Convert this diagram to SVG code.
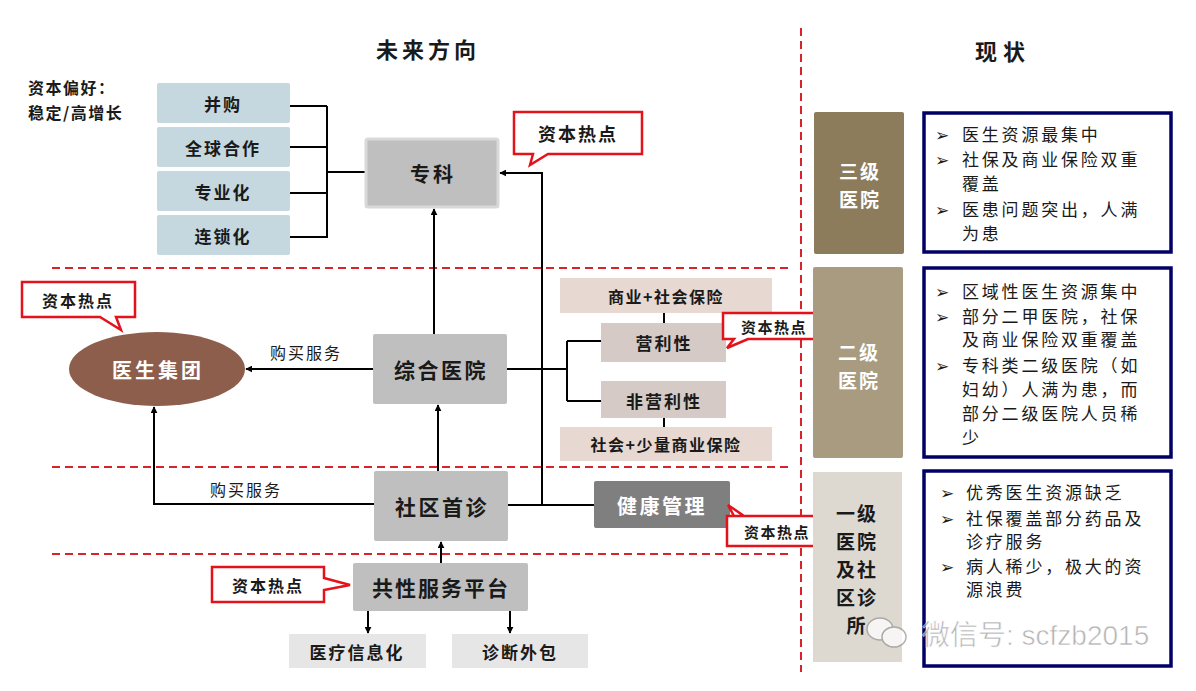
<svg xmlns="http://www.w3.org/2000/svg" width="1196" height="691" viewBox="0 0 1196 691">
<defs>
<marker id="ah" viewBox="0 0 10 10" refX="9" refY="5" markerWidth="7" markerHeight="7" orient="auto-start-reverse" markerUnits="userSpaceOnUse">
<path d="M0,0 L10,5 L0,10 z" fill="#000"/>
</marker>
<style>
text{font-family:"Noto Sans CJK SC","Noto Sans",sans-serif;fill:#1a1a1a}
.t{text-anchor:middle;dominant-baseline:central}
.b{font-weight:bold}
.blue{fill:#c5d7df}
.gray{fill:#bfbfbf}
.pink{fill:#e7d8d2}
.pink2{fill:#d6cac6}
.lg{fill:#e6e6e6}
.call{fill:#fff;stroke:#e3121b;stroke-width:2.5}
.ln{stroke:#000;stroke-width:2;fill:none}
.arr{stroke:#000;stroke-width:2;fill:none;marker-end:url(#ah)}
.dash{stroke:#d9232b;stroke-width:2;stroke-dasharray:8,5;fill:none}
.nav{fill:#fff;stroke:#000066;stroke-width:3.5}
.bul{font-size:17px;letter-spacing:2.8px}
.bk{font-family:"DejaVu Sans",sans-serif;font-size:17px}
.lv{font-size:19px;letter-spacing:2px}
</style>
</defs>
<rect width="1196" height="691" fill="#fff"/>

<!-- separators -->
<g id="separators">
<line class="dash" x1="801" y1="28" x2="801" y2="672"/>
<line class="dash" x1="52" y1="268" x2="790" y2="268"/>
<line class="dash" x1="52" y1="467" x2="790" y2="467"/>
<line class="dash" x1="52" y1="554" x2="790" y2="554"/>
</g>

<!-- titles -->
<g id="titles">
<text class="t b" x="428" y="48" font-size="22" letter-spacing="4">未来方向</text>
<text class="t b" x="1003" y="50" font-size="22" letter-spacing="6">现状</text>
<text x="28" y="94" font-size="16" class="b" letter-spacing="1.5">资本偏好：</text>
<text x="28" y="119" font-size="16" class="b" letter-spacing="1.5">稳定/高增长</text>
</g>

<!-- connectors -->
<g id="connectors">
<path class="ln" d="M290,106 H327 M290,147 H327 M290,193 H327 M290,237 H327 M327,106 V238 M327,172 H365"/>
<line class="arr" x1="434" y1="334" x2="434" y2="209"/>
<path class="arr" d="M542,505 V173 H500"/>
<line class="arr" x1="373" y1="369" x2="246" y2="369"/>
<text class="t" x="306" y="352" font-size="16" letter-spacing="2">购买服务</text>
<path class="ln" d="M507,369 H567 M567,341 V401 M567,341 H601 M567,401 H601 M664,313 V323 M664,418 V427"/>
<line class="arr" x1="438" y1="499" x2="438" y2="405"/>
<path class="arr" d="M374,504 H154 V407"/>
<text class="t" x="246" y="489" font-size="16" letter-spacing="2">购买服务</text>
<line class="ln" x1="508" y1="505" x2="594" y2="505"/>
<line class="arr" x1="441" y1="563" x2="441" y2="542"/>
<line class="arr" x1="368" y1="611" x2="368" y2="633"/>
<line class="arr" x1="510" y1="611" x2="510" y2="633"/>
</g>

<!-- left boxes -->
<g id="n-bg"><rect class="blue" x="157" y="83" width="133" height="40" rx="2"/><text class="t b" x="223" y="103" font-size="17" letter-spacing="2">并购</text></g>
<g id="n-qq"><rect class="blue" x="157" y="127" width="133" height="40" rx="2"/><text class="t b" x="223" y="147" font-size="17" letter-spacing="2">全球合作</text></g>
<g id="n-zyh"><rect class="blue" x="157" y="171" width="133" height="40" rx="2"/><text class="t b" x="223" y="191" font-size="17" letter-spacing="2">专业化</text></g>
<g id="n-lsh"><rect class="blue" x="157" y="215" width="133" height="40" rx="2"/><text class="t b" x="223" y="235" font-size="17" letter-spacing="2">连锁化</text></g>

<g id="n-zk"><rect x="366" y="139" width="132" height="68" fill="#bfbfbf" stroke="#d9d9d9" stroke-width="3" rx="2"/><text class="t b" x="433" y="173" font-size="20" letter-spacing="3">专科</text></g>
<g id="c1"><path class="call" d="M514,112 H642 V154 H548 L530,165 L533,154 H514 Z"/><text class="t b" x="578" y="133" font-size="18" letter-spacing="2">资本热点</text></g>

<g id="c2"><path class="call" d="M22,282 H135 V317 H116 L121,330 L100,317 H22 Z"/><text class="t b" x="78" y="300" font-size="16" letter-spacing="2">资本热点</text></g>
<g id="n-ysjt"><ellipse cx="157" cy="369" rx="88" ry="37" fill="#8e5e4c"/><text class="t b" x="158" y="369" font-size="20" letter-spacing="3" style="fill:#fff">医生集团</text></g>
<g id="n-zhyy"><rect class="gray" x="373" y="334" width="134" height="70" rx="2"/><text class="t b" x="441" y="369" font-size="21" letter-spacing="2.5">综合医院</text></g>

<g id="n-sy"><rect class="pink" x="560" y="278" width="212" height="35"/><text class="t b" x="666" y="296" font-size="16" letter-spacing="1.5">商业+社会保险</text></g>
<g id="n-yl"><rect class="pink2" x="601" y="323" width="125" height="39"/><text class="t b" x="664" y="342" font-size="17" letter-spacing="2">营利性</text></g>
<g id="n-fyl"><rect class="pink2" x="601" y="381" width="125" height="37"/><text class="t b" x="664" y="400" font-size="17" letter-spacing="2">非营利性</text></g>
<g id="n-sh"><rect class="pink" x="560" y="427" width="212" height="34"/><text class="t b" x="666" y="444" font-size="16" letter-spacing="1.5">社会+少量商业保险</text></g>
<g id="c3"><path class="call" d="M723,313 H822 V339 H748 L727,348 L734,339 H723 Z"/><text class="t b" x="774" y="326" font-size="15" letter-spacing="1.5">资本热点</text></g>

<g id="n-sqsz"><rect class="gray" x="374" y="471" width="134" height="70" rx="2"/><text class="t b" x="442" y="506" font-size="21" letter-spacing="2.5">社区首诊</text></g>
<g id="n-jkgl"><rect x="594" y="481" width="136" height="47" fill="#7f7f7f" rx="2"/><text class="t b" x="662" y="505" font-size="20" letter-spacing="2.5" style="fill:#fff">健康管理</text></g>
<g id="c4"><path class="call" d="M727,516 H828 V546 H727 V516 H744 L728,505 L734,516"/><text class="t b" x="777" y="531" font-size="15" letter-spacing="1.5">资本热点</text></g>

<g id="n-gx"><rect class="gray" x="353" y="563" width="175" height="48" rx="2"/><text class="t b" x="441" y="587" font-size="21" letter-spacing="2">共性服务平台</text></g>
<g id="c5"><path class="call" d="M212,567 H324 V578 L350,585 L324,590 V602 H212 Z"/><text class="t b" x="268" y="585" font-size="16" letter-spacing="2">资本热点</text></g>
<g id="n-ylxx"><rect class="lg" x="289" y="634" width="137" height="34"/><text class="t b" x="357" y="651" font-size="17" letter-spacing="2">医疗信息化</text></g>
<g id="n-zdwb"><rect class="lg" x="452" y="634" width="136" height="34"/><text class="t b" x="520" y="651" font-size="17" letter-spacing="2">诊断外包</text></g>

<!-- right side -->
<g id="n-sj"><rect x="814" y="112" width="90" height="142" fill="#8c7c5c" rx="2"/><text class="t b lv" x="860" y="170" style="fill:#fff">三级</text><text class="t b lv" x="860" y="198" style="fill:#fff">医院</text></g>
<g id="d-sj"><rect class="nav" x="924" y="113" width="247" height="139"/>
<text class="bk" x="935" y="141">➢</text><text class="bul" x="962" y="141">医生资源最集中</text>
<text class="bk" x="935" y="166">➢</text><text class="bul" x="962" y="166">社保及商业保险双重</text>
<text class="bul" x="962" y="190">覆盖</text>
<text class="bk" x="935" y="216">➢</text><text class="bul" x="962" y="216">医患问题突出，人满</text>
<text class="bul" x="962" y="240">为患</text>
</g>

<g id="n-ej"><rect x="813" y="267" width="90" height="191" fill="#a89b80" rx="2"/><text class="t b lv" x="859" y="351" style="fill:#fff">二级</text><text class="t b lv" x="859" y="379" style="fill:#fff">医院</text></g>
<g id="d-ej"><rect class="nav" x="924" y="268" width="247" height="189"/>
<text class="bk" x="935" y="298">➢</text><text class="bul" x="962" y="298">区域性医生资源集中</text>
<text class="bk" x="935" y="323">➢</text><text class="bul" x="962" y="323">部分二甲医院，社保</text>
<text class="bul" x="962" y="346">及商业保险双重覆盖</text>
<text class="bk" x="935" y="372">➢</text><text class="bul" x="962" y="372">专科类二级医院（如</text>
<text class="bul" x="962" y="396">妇幼）人满为患，而</text>
<text class="bul" x="962" y="420">部分二级医院人员稀</text>
<text class="bul" x="962" y="444">少</text>
</g>

<g id="n-yj"><rect x="813" y="472" width="89" height="190" fill="#ddd9d1"/>
<text class="t b lv" x="857" y="512">一级</text>
<text class="t b lv" x="857" y="540">医院</text>
<text class="t b lv" x="857" y="568">及社</text>
<text class="t b lv" x="857" y="596">区诊</text>
<text class="t b lv" x="857" y="624">所</text>
</g>
<g id="d-yj"><rect class="nav" x="924" y="471" width="247" height="195"/>
<text class="bk" x="940" y="499">➢</text><text class="bul" x="966" y="499">优秀医生资源缺乏</text>
<text class="bk" x="940" y="525">➢</text><text class="bul" x="966" y="525">社保覆盖部分药品及</text>
<text class="bul" x="966" y="548">诊疗服务</text>
<text class="bk" x="940" y="573">➢</text><text class="bul" x="966" y="573">病人稀少，极大的资</text>
<text class="bul" x="966" y="596">源浪费</text>
</g>

<!-- watermark -->
<g id="watermark" opacity="0.75">
<ellipse cx="880" cy="629" rx="13" ry="11" fill="#fff" stroke="#999" stroke-width="1.5"/>
<ellipse cx="894" cy="637" rx="12" ry="10" fill="#fff" stroke="#999" stroke-width="1.5"/>
<text x="922" y="645" font-size="28" style="fill:#9a9a9a;font-family:'Liberation Sans','Noto Sans CJK SC',sans-serif" stroke="#fff" stroke-width="0.6">微信号: scfzb2015</text>
</g>
</svg>
